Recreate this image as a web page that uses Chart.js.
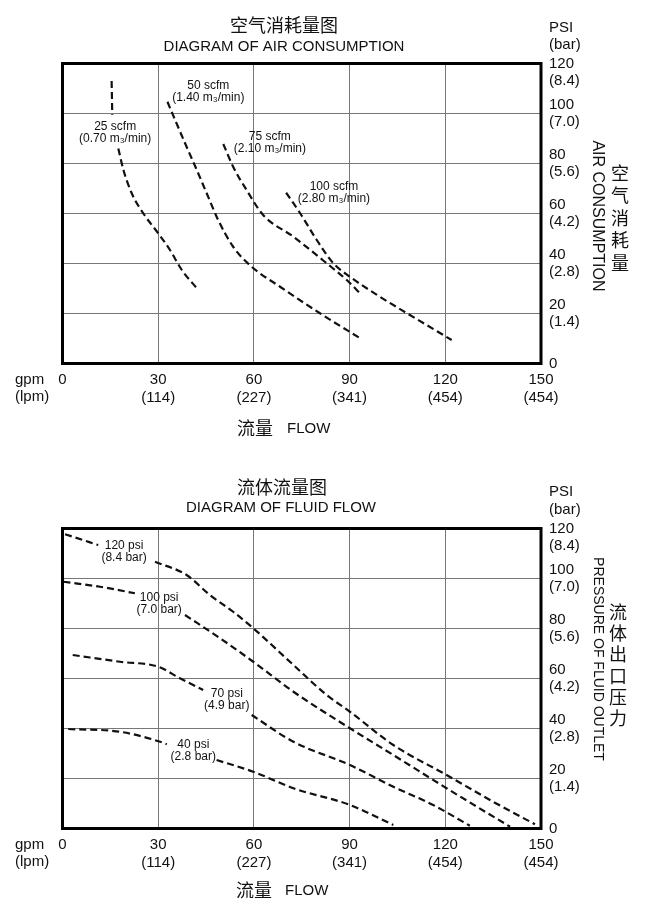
<!DOCTYPE html>
<html>
<head>
<meta charset="utf-8">
<script src="https://cdn.jsdelivr.net/npm/chart.js@4.4.1/dist/chart.umd.min.js"></script>
<style>
html, body { margin: 0; padding: 0; background: #fff; }
.wrap { position: absolute; left: 0; width: 659px; }
</style>
</head>
<body>
<div class="wrap" style="top:0;height:455px"><canvas id="airChart" width="659" height="455"></canvas></div>
<div class="wrap" style="top:455px;height:452px"><canvas id="fluidChart" width="659" height="452"></canvas></div>
<script>
// axis ticks
const flowGpm = [0, 30, 60, 90, 120, 150];
const flowLpm = ['', '(114)', '(227)', '(341)', '(454)', '(454)'];
const psiValues = [0, 20, 40, 60, 80, 100, 120];
const barValues = ['', '(1.4)', '(2.8)', '(4.2)', '(5.6)', '(7.0)', '(8.4)'];

// air consumption curves: flow (gpm) vs pressure (psi), null leaves the gap for the label
const air25Gpm = [15.4, 15.6, 16.5, 17.5, 19.1, 21.7, 25.3, 30.0, 33.7, 37.4, 42.6];
const air25Psi = [113, 99.5, null, 86, 77.4, 68.1, 60.1, 52.1, 45.4, 37.4, 29.4];
const air50Gpm = [32.9, 35.3, 38.9, 42.1, 45.2, 48.8, 53.5, 59.3, 68.2, 80.7, 93.8];
const air50Psi = [104.7, 97.4, 86.7, 77.4, 68.1, 57.4, 46.7, 38.7, 30.7, 20.1, 9.7];
const air75Gpm = [50.4, 53.5, 57.7, 62.9, 72.4, 82.8, 89.1, 93.8];
const air75Psi = [87.8, 78.7, 69.4, 59.4, 50.7, 40.1, 33.4, 27.4];
const air100Gpm = [70.1, 74.5, 79.7, 84.9, 90.1, 99.5, 108.9, 122];
const air100Psi = [68.3, 60.1, 49.4, 40.1, 34.7, 26.7, 19.4, 9.4];
const airNames = ['25 scfm', '50 scfm', '75 scfm', '100 scfm'];
const airVolumes = ['(0.70 m\u2083/min)', '(1.40 m\u2083/min)', '(2.10 m\u2083/min)', '(2.80 m\u2083/min)'];

// fluid flow curves: flow (gpm) vs outlet pressure (psi)
const fluid120Gpm = [0.8, 11.2, 20, 29, 38.9, 46.2, 53.5, 59.8, 72.4, 82.8, 90.1, 103.7, 120.4, 135, 148.1];
const fluid120Psi = [117.7, 113.4, null, 106.7, 101.4, 93.4, 86.7, 80.1, 65.4, 53.4, 46.7, 33.4, 21.4, 10.7, 1.7];
const fluid100Gpm = [0.3, 11.8, 22.7, 30, 38.4, 49.4, 59.8, 72.4, 90.1, 103.7, 120.4, 140.3];
const fluid100Psi = [98.7, 96.7, 94.1, null, 85.4, 76.1, 66.7, 54.7, 40.1, 29.4, 16.1, 0.7];
const fluid70Gpm = [3.2, 18, 30, 36.8, 44.1, 51, 59.3, 72.4, 90.1, 103.7, 116.2, 127.7];
const fluid70Psi = [69.4, 66.7, 64.7, 60.1, 55.4, null, 45.4, 34.7, 25.4, 16.7, 9.4, 1.1];
const fluid40Gpm = [1.8, 18, 30.6, 32.7, 40, 48.3, 59.8, 72.4, 90.1, 103.7];
const fluid40Psi = [39.8, 38.7, 34.7, 33.7, null, 27.4, 22.7, 16.1, 9.4, 1.4];
const fluidNames = ['120 psi', '100 psi', '70 psi', '40 psi'];
const fluidBars = ['(8.4 bar)', '(7.0 bar)', '(4.9 bar)', '(2.8 bar)'];

const SANS = '"Liberation Sans", Arial, sans-serif';
const CJK = '"Noto Sans CJK SC", sans-serif';

function zip(xs, ys) {
    return xs.map((x, i) => ({ x: x, y: ys[i] }));
}

function curve(xs, ys) {
    return {
        data: zip(xs, ys),
        borderColor: '#111',
        borderWidth: 2.2,
        borderDash: [7, 4],
        pointRadius: 0,
        fill: false,
        spanGaps: false,
        cubicInterpolationMode: 'monotone',
    };
}

// frame, free text and curve captions
const sheetPlugin = {
    id: 'sheet',
    afterDraw(chart, args, opts) {
        const { ctx, chartArea: a, scales } = chart;
        ctx.save();
        ctx.strokeStyle = '#000';
        ctx.lineWidth = 3;
        ctx.strokeRect(a.left, a.top, a.right - a.left, a.bottom - a.top);

        ctx.fillStyle = '#111';
        ctx.textBaseline = 'middle';
        opts.texts.forEach(t => {
            ctx.font = t.font;
            ctx.textAlign = t.align || 'left';
            if (t.rotate) {
                ctx.save();
                ctx.translate(t.x, t.y);
                ctx.rotate(Math.PI / 2);
                ctx.textAlign = 'center';
                ctx.fillText(t.text, 0, 0);
                ctx.restore();
            } else {
                ctx.fillText(t.text, t.x, t.y);
            }
        });

        // stacked chinese axis name
        const v = opts.stack;
        ctx.font = v.font;
        ctx.textAlign = 'center';
        Array.from(v.text).forEach((ch, i) => ctx.fillText(ch, v.x, v.y + i * v.step));

        ctx.font = '12px ' + SANS;
        opts.captions.forEach(c => {
            const x = scales.x.getPixelForValue(c.at[0]);
            const y = scales.y.getPixelForValue(c.at[1]);
            ctx.fillText(c.lines[0], x, y);
            ctx.fillText(c.lines[1], x, y + 12);
        });
        ctx.restore();
    }
};

function makeChart(id, height, datasets, sheet) {
    const canvas = document.getElementById(id);
    return new Chart(canvas, {
        type: 'line',
        data: { datasets: datasets },
        options: {
            responsive: false,
            animation: false,
            layout: { padding: { left: 62.5, top: sheet.areaTop, right: 0, bottom: 0 } },
            plugins: { legend: { display: false }, tooltip: { enabled: false }, sheet: sheet },
            scales: {
                x: {
                    type: 'linear',
                    position: 'bottom',
                    min: 0,
                    max: 150,
                    afterBuildTicks: s => { s.ticks = flowGpm.map(v => ({ value: v })); },
                    afterFit: s => { s.height = height - sheet.areaTop - 300; },
                    grid: { color: '#777', lineWidth: 1, drawTicks: false },
                    border: { display: false },
                    ticks: {
                        autoSkip: false,
                        maxRotation: 0,
                        padding: 8,
                        color: '#111',
                        font: { family: SANS, size: 15, lineHeight: 1.15 },
                        callback: v => {
                            const i = flowGpm.indexOf(v);
                            return i === 0 ? '0' : [String(v), flowLpm[i]];
                        },
                    },
                },
                y: {
                    type: 'linear',
                    position: 'right',
                    min: 0,
                    max: 120,
                    afterBuildTicks: s => { s.ticks = psiValues.map(v => ({ value: v })); },
                    afterFit: s => { s.width = 118; },
                    grid: { color: '#777', lineWidth: 1, drawTicks: false },
                    border: { display: false },
                    ticks: {
                        autoSkip: false,
                        padding: 8,
                        color: '#111',
                        font: { family: SANS, size: 15, lineHeight: 1.15 },
                        callback: v => {
                            const i = psiValues.indexOf(v);
                            if (i === 0) return '0';
                            if (v === 120) return ['', '120', barValues[i]];
                            return [String(v), barValues[i]];
                        },
                    },
                },
            },
        },
        plugins: [sheetPlugin],
    });
}

makeChart('airChart', 455, [
    curve(air25Gpm, air25Psi),
    curve(air50Gpm, air50Psi),
    curve(air75Gpm, air75Psi),
    curve(air100Gpm, air100Psi),
], {
    areaTop: 63.5,
    texts: [
        { text: '空气消耗量图', x: 284, y: 25, font: '18px ' + CJK, align: 'center' },
        { text: 'DIAGRAM OF AIR CONSUMPTION', x: 284, y: 47, font: '15px ' + SANS, align: 'center' },
        { text: 'PSI', x: 549, y: 28, font: '15px ' + SANS },
        { text: '(bar)', x: 549, y: 45, font: '15px ' + SANS },
        { text: 'gpm', x: 15, y: 380, font: '15px ' + SANS },
        { text: '(lpm)', x: 15, y: 397, font: '15px ' + SANS },
        { text: '流量', x: 237, y: 428, font: '18px ' + CJK },
        { text: 'FLOW', x: 287, y: 429, font: '15px ' + SANS },
        { text: 'AIR CONSUMPTION', x: 597, y: 216, font: '16px ' + SANS, rotate: true },
    ],
    stack: { text: '空气消耗量', x: 620, y: 173, step: 22.5, font: '18px ' + CJK },
    captions: [
        { at: [16.5, 94.6], lines: [airNames[0], airVolumes[0]] },
        { at: [45.7, 111], lines: [airNames[1], airVolumes[1]] },
        { at: [65, 90.7], lines: [airNames[2], airVolumes[2]] },
        { at: [85.1, 70.7], lines: [airNames[3], airVolumes[3]] },
    ],
});

makeChart('fluidChart', 452, [
    curve(fluid120Gpm, fluid120Psi),
    curve(fluid100Gpm, fluid100Psi),
    curve(fluid70Gpm, fluid70Psi),
    curve(fluid40Gpm, fluid40Psi),
], {
    areaTop: 73.5,
    texts: [
        { text: '流体流量图', x: 282, y: 32, font: '18px ' + CJK, align: 'center' },
        { text: 'DIAGRAM OF FLUID FLOW', x: 281, y: 53, font: '15px ' + SANS, align: 'center' },
        { text: 'PSI', x: 549, y: 37, font: '15px ' + SANS },
        { text: '(bar)', x: 549, y: 55, font: '15px ' + SANS },
        { text: 'gpm', x: 15, y: 390, font: '15px ' + SANS },
        { text: '(lpm)', x: 15, y: 407, font: '15px ' + SANS },
        { text: '流量', x: 236, y: 435, font: '18px ' + CJK },
        { text: 'FLOW', x: 285, y: 436, font: '15px ' + SANS },
        { text: 'PRESSURE OF FLUID OUTLET', x: 598, y: 204, font: '14px ' + SANS, rotate: true },
    ],
    stack: { text: '流体出口压力', x: 618, y: 157, step: 21.3, font: '18px ' + CJK },
    captions: [
        { at: [19.3, 113.1], lines: [fluidNames[0], fluidBars[0]] },
        { at: [30.3, 92.5], lines: [fluidNames[1], fluidBars[1]] },
        { at: [51.5, 53.8], lines: [fluidNames[2], fluidBars[2]] },
        { at: [41, 33.4], lines: [fluidNames[3], fluidBars[3]] },
    ],
});
</script>
</body>
</html>
